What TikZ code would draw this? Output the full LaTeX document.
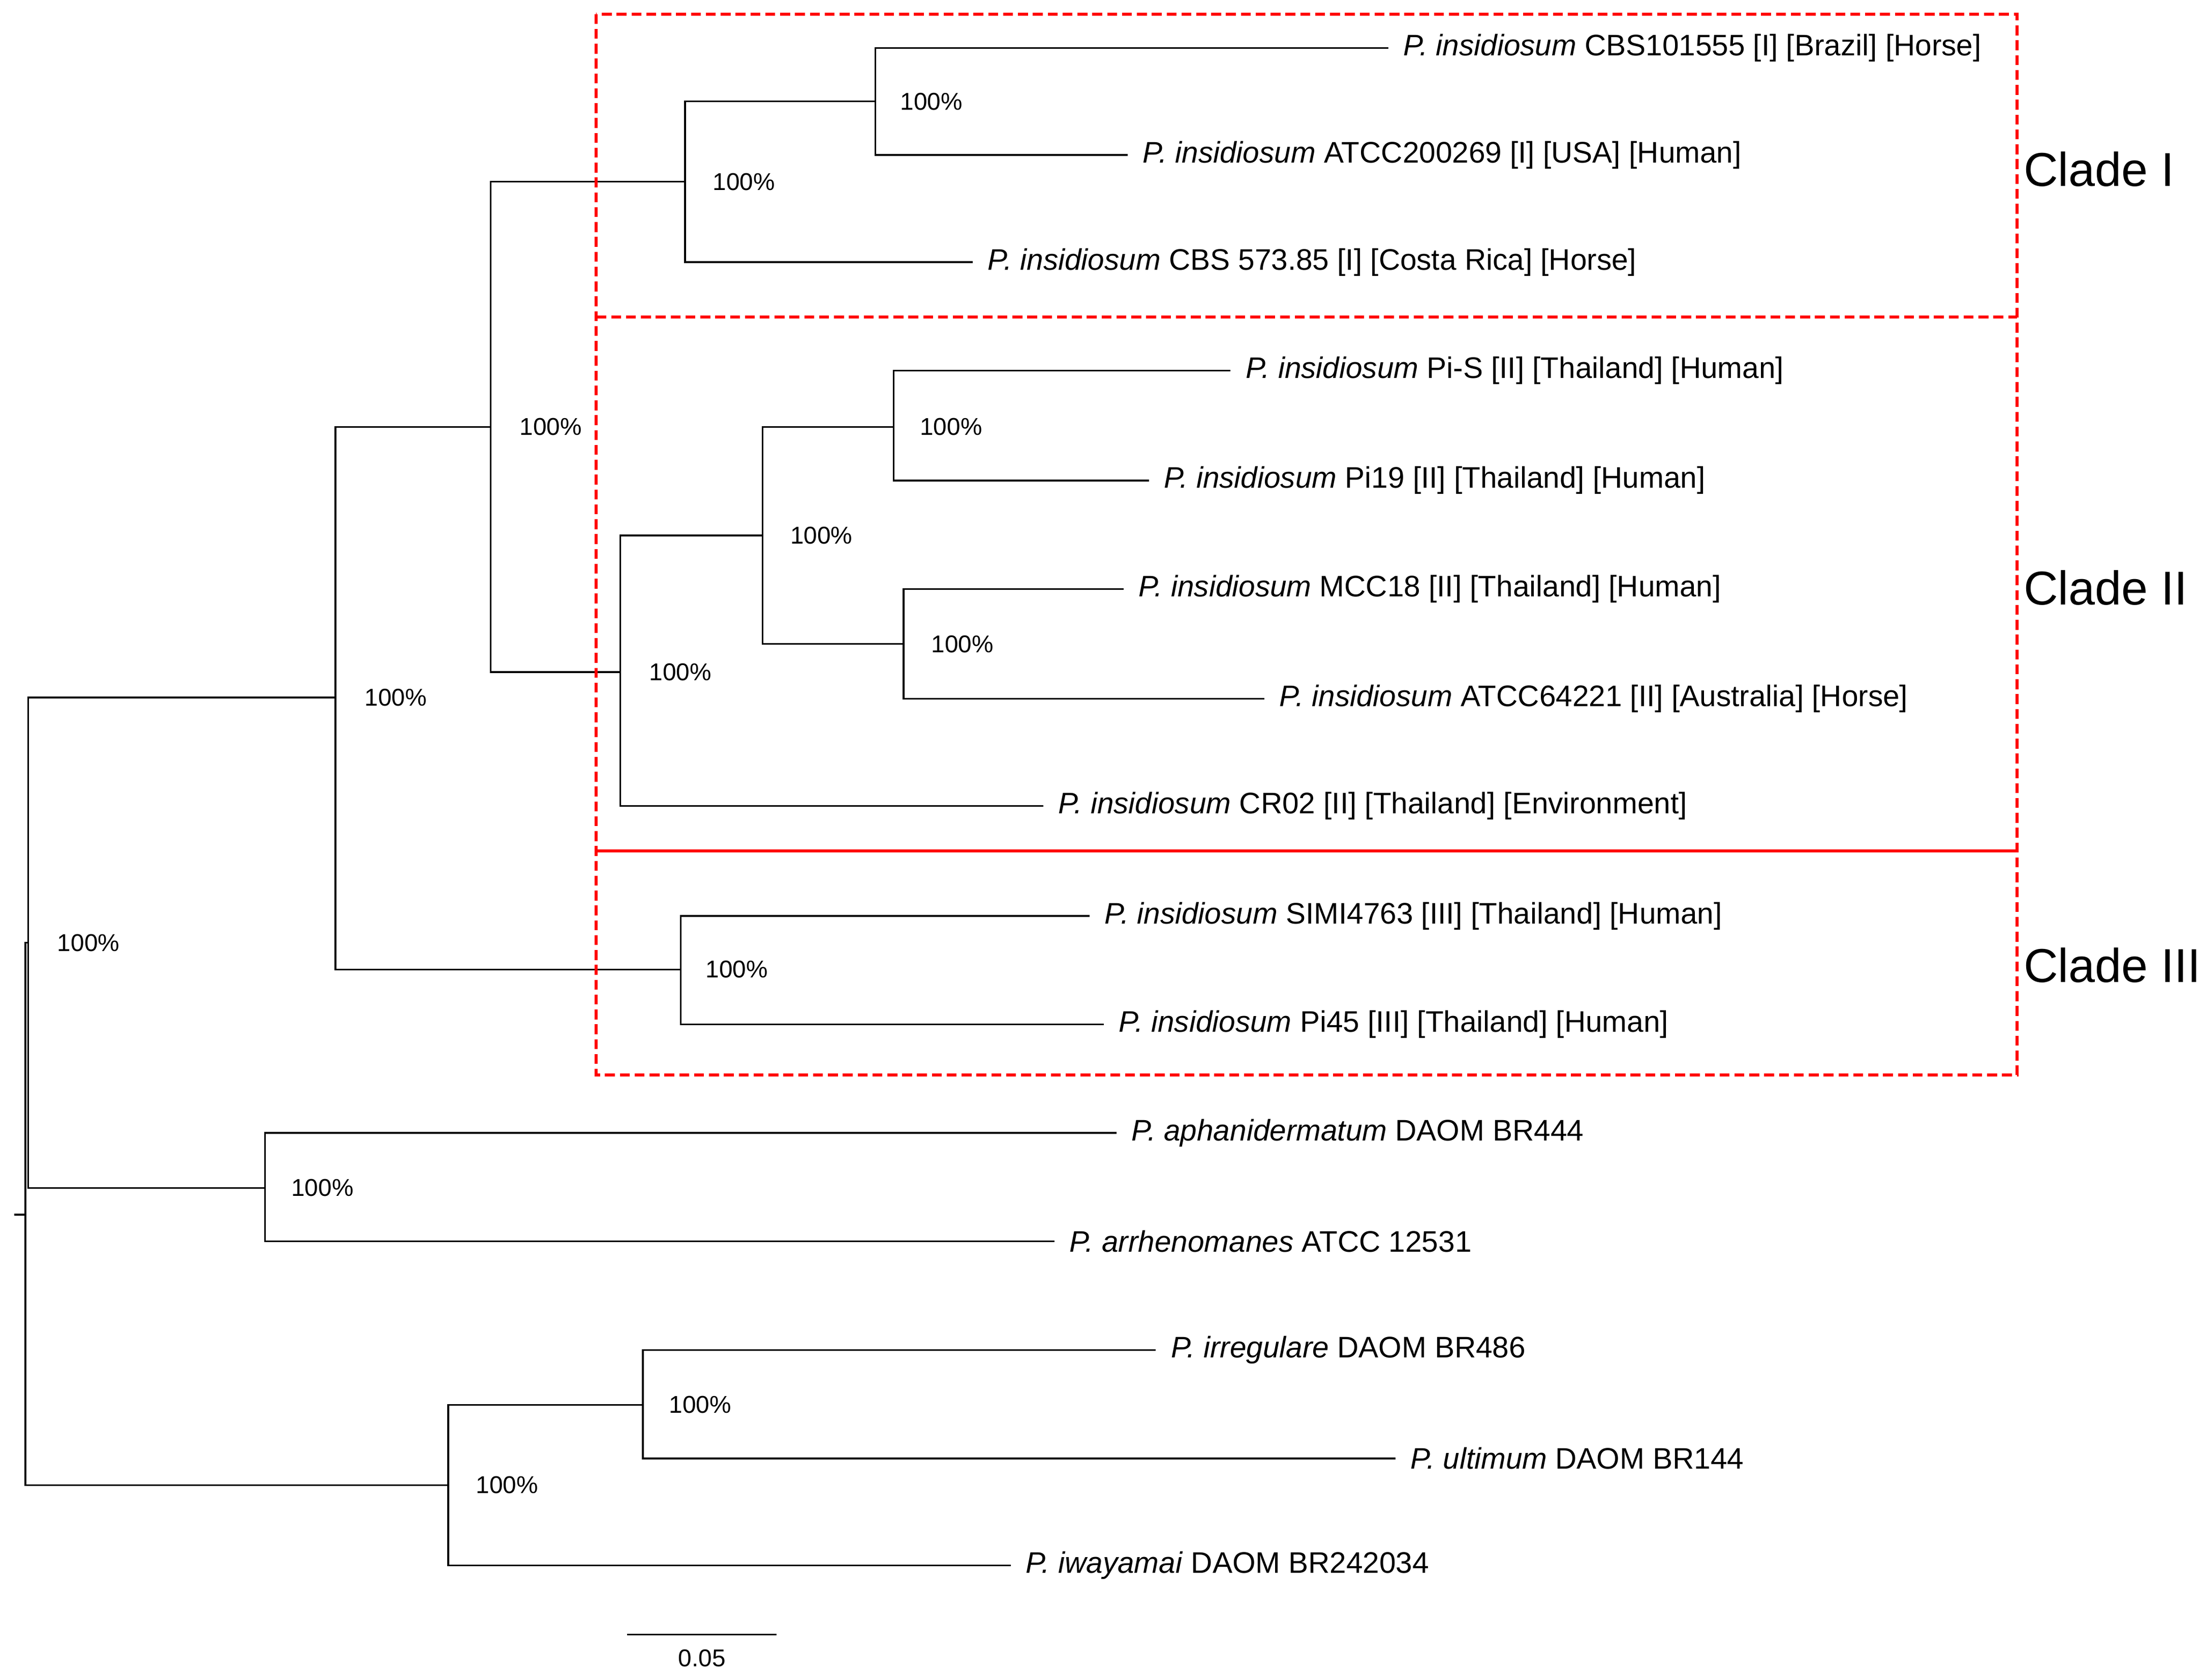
\documentclass[tikz,border=0pt]{standalone}
\usepackage{fontspec}
\setmainfont{Liberation Sans}
\usetikzlibrary{positioning}

\begin{document}
\begin{tikzpicture}[
x=0.1mm, y=-0.1mm,
leaf/.style={anchor=west, inner xsep=1mm, inner ysep=0pt, font=\fontsize{6}{7}\selectfont},
boot/.style={anchor=west, inner sep=0pt, font=\fontsize{4.9}{6}\selectfont},
clade/.style={anchor=west, inner sep=0pt, font=\fontsize{9.6}{11}\selectfont},
branch/.style={draw=black, line width=0.35pt},
cladebox/.style={draw=red, line width=0.6pt, dashed, dash pattern=on 2pt off 1pt}
]
\useasboundingbox (0,0) rectangle (1560,1192);

%Internal nodes
\coordinate (root) at (18,862);
\coordinate (n20) at (20,669);
\coordinate (nin) at (238,495);
\coordinate (n348) at (348,303);
\coordinate (n486) at (486,129);
\coordinate (n621) at (621,72);
\coordinate (n440) at (440,477);
\coordinate (n541) at (541,380);
\coordinate (n634) at (634,303);
\coordinate (n641) at (641,457);
\coordinate (nc3) at (483,688);
\coordinate (n188) at (188,843);
\coordinate (n318) at (318,1054);
\coordinate (n456) at (456,997);

%Leaves
\node[leaf] (brazil) at (985,34) {\textit{P. insidiosum} CBS101555 [I] [Brazil] [Horse]};
\node[leaf] (usa) at (800,110) {\textit{P. insidiosum} ATCC200269 [I] [USA] [Human]};
\node[leaf] (costa) at (690,186) {\textit{P. insidiosum} CBS 573.85 [I] [Costa Rica] [Horse]};
\node[leaf] (pis) at (873,263) {\textit{P. insidiosum} Pi-S [II] [Thailand] [Human]};
\node[leaf] (pi19) at (815,341) {\textit{P. insidiosum} Pi19 [II] [Thailand] [Human]};
\node[leaf] (mcc18) at (797,418) {\textit{P. insidiosum} MCC18 [II] [Thailand] [Human]};
\node[leaf] (atcc64) at (897,496) {\textit{P. insidiosum} ATCC64221 [II] [Australia] [Horse]};
\node[leaf] (cr02) at (740,572) {\textit{P. insidiosum} CR02 [II] [Thailand] [Environment]};
\node[leaf] (simi) at (773,650) {\textit{P. insidiosum} SIMI4763 [III] [Thailand] [Human]};
\node[leaf] (pi45) at (783,727) {\textit{P. insidiosum} Pi45 [III] [Thailand] [Human]};
\node[leaf] (aphan) at (792,804) {\textit{P. aphanidermatum} DAOM BR444};
\node[leaf] (arrh) at (748,881) {\textit{P. arrhenomanes} ATCC 12531};
\node[leaf] (irreg) at (820,958) {\textit{P. irregulare} DAOM BR486};
\node[leaf] (ultim) at (990,1035) {\textit{P. ultimum} DAOM BR144};
\node[leaf] (iway) at (717,1111) {\textit{P. iwayamai} DAOM BR242034};

%Branches
\coordinate (stub) at (10,862);
\draw[branch] (stub) -- (root);
\foreach \p/\c in {%
      root/n20, root/n318,
      n20/nin, n20/n188,
      nin/n348, nin/nc3,
      n348/n486, n348/n440,
      n486/n621, n440/n541,
      n541/n634, n541/n641,
      n318/n456}
   \draw[branch] (\p) |- (\c);
\foreach \p/\c in {%
      n621/brazil, n621/usa, n486/costa,
      n634/pis, n634/pi19, n641/mcc18, n641/atcc64, n440/cr02,
      nc3/simi, nc3/pi45, n188/aphan, n188/arrh,
      n456/irreg, n456/ultim, n318/iway}
   \draw[branch] (\p) |- (\c.west);

%Support values
\foreach \n/\x in {n20/40, nin/258, n348/368, n486/505, n621/638, n440/460,
      n541/560, n634/652, n641/660, nc3/500, n188/206, n318/337, n456/474}
   \node[boot] at (\x,0 |- \n) {100\%};

%Clades
\draw[cladebox] (423,10) rectangle (1431,763);
\draw[cladebox] (423,225) -- (1431,225);
\draw[draw=red, line width=0.6pt] (423,604) -- (1431,604);
\node[clade] (c1) at (1435,120) {Clade I};
\node[clade] (c2) at (1435,417) {Clade II};
\node[clade] (c3) at (1435,685) {Clade III};

%Scale
\coordinate (sa) at (445,1160);
\coordinate (sb) at (551,1160);
\draw[branch] (sa) -- node[below=1mm, boot, anchor=north] {0.05} (sb);
\end{tikzpicture}
\end{document}
